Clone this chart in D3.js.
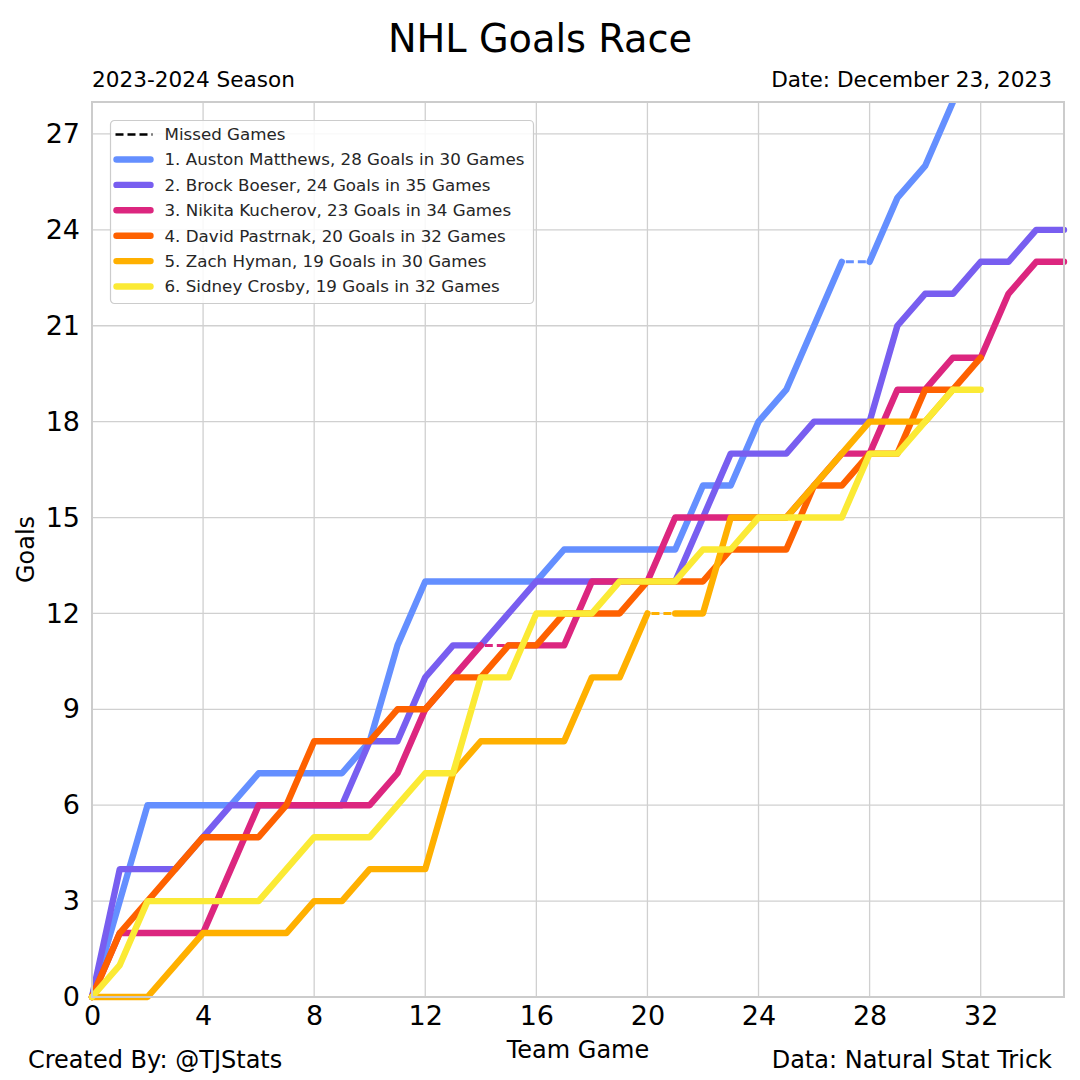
<!DOCTYPE html>
<html>
<head>
<meta charset="utf-8">
<script src="https://cdn.jsdelivr.net/npm/d3@7"></script>
<style>
  html, body { margin: 0; padding: 0; background: #fff; }
  svg { display: block; font-family: "DejaVu Sans", sans-serif; }
</style>
</head>
<body>
<div id="chart"></div>
<script>
// goals after each team game (index = team game number)
const players = ["Auston Matthews", "Brock Boeser", "Nikita Kucherov", "David Pastrnak", "Zach Hyman", "Sidney Crosby"];
const colors = ["#648FFF", "#785EF0", "#DC267F", "#FE6100", "#FFB000", "#FBEA35"];

const matthewsGoals = [0, 3, 6, 6, 6, 6, 7, 7, 7, 7, 8, 11, 13, 13, 13, 13, 13, 14, 14, 14, 14, 14, 16, 16, 18, 19, 21, 23, 23, 25, 26, 28];
const boeserGoals = [0, 4, 4, 4, 5, 6, 6, 6, 6, 6, 8, 8, 10, 11, 11, 12, 13, 13, 13, 13, 13, 13, 15, 17, 17, 17, 18, 18, 18, 21, 22, 22, 23, 23, 24, 24];
const kucherovGoals = [0, 2, 2, 2, 2, 4, 6, 6, 6, 6, 6, 7, 9, 10, 11, 11, 11, 11, 13, 13, 13, 15, 15, 15, 15, 15, 16, 17, 17, 19, 19, 20, 20, 22, 23, 23];
const pastrnakGoals = [0, 2, 3, 4, 5, 5, 5, 6, 8, 8, 8, 9, 9, 10, 10, 11, 11, 12, 12, 12, 13, 13, 13, 14, 14, 14, 16, 16, 17, 17, 19, 19, 20];
const hymanGoals = [0, 0, 0, 1, 2, 2, 2, 2, 3, 3, 4, 4, 4, 7, 8, 8, 8, 8, 10, 10, 12, 12, 12, 15, 15, 15, 16, 17, 18, 18, 18, 19];
const crosbyGoals = [0, 1, 3, 3, 3, 3, 3, 4, 5, 5, 5, 6, 7, 7, 10, 10, 12, 12, 12, 13, 13, 13, 14, 14, 15, 15, 15, 15, 17, 17, 18, 19, 19];

// team games each player sat out (segment leading into that game is dashed)
const matthewsMissed = [28];
const boeserMissed = [];
const kucherovMissed = [15];
const pastrnakMissed = [];
const hymanMissed = [21];
const crosbyMissed = [];

const goalsList = [matthewsGoals, boeserGoals, kucherovGoals, pastrnakGoals, hymanGoals, crosbyGoals];
const missedList = [matthewsMissed, boeserMissed, kucherovMissed, pastrnakMissed, hymanMissed, crosbyMissed];

const xTicks = [0, 4, 8, 12, 16, 20, 24, 28, 32];
const yTicks = [0, 3, 6, 9, 12, 15, 18, 21, 24, 27];

const W = 1080, H = 1080;
const margin = { top: 102, right: 16, bottom: 83, left: 92 };
const innerW = W - margin.left - margin.right;
const innerH = H - margin.top - margin.bottom;

const svg = d3.select("#chart").append("svg")
    .attr("width", W)
    .attr("height", H);

svg.append("rect").attr("width", W).attr("height", H).attr("fill", "#fff");

const x = d3.scaleLinear().domain([0, 35]).range([margin.left, margin.left + innerW]);
const y = d3.scaleLinear().domain([0, 28]).range([margin.top + innerH, margin.top]);

// grid
svg.append("g")
    .selectAll("line.vg")
    .data(xTicks)
    .enter().append("line")
    .attr("x1", d => x(d)).attr("x2", d => x(d))
    .attr("y1", y(0)).attr("y2", y(28))
    .attr("stroke", "#d0d0d0")
    .attr("stroke-width", 1.3);

svg.append("g")
    .selectAll("line.hg")
    .data(yTicks)
    .enter().append("line")
    .attr("x1", x(0)).attr("x2", x(35))
    .attr("y1", d => y(d)).attr("y2", d => y(d))
    .attr("stroke", "#d0d0d0")
    .attr("stroke-width", 1.3);

// axes (tick labels only, no tick marks)
const xAxis = svg.append("g")
    .attr("transform", `translate(0,${y(0)})`)
    .call(d3.axisBottom(x).tickValues(xTicks).tickSize(0).tickPadding(9));
const yAxis = svg.append("g")
    .attr("transform", `translate(${x(0)},0)`)
    .call(d3.axisLeft(y).tickValues(yTicks).tickSize(0).tickPadding(12));
[xAxis, yAxis].forEach(a => {
    a.select(".domain").remove();
    a.selectAll("text")
        .style("font-family", "DejaVu Sans")
        .style("font-size", "27px")
        .attr("fill", "#000");
});

const plot = svg.append("g");

const line = d3.line()
    .defined(d => d !== null)
    .x(d => x(d[0]))
    .y(d => y(d[1]));

goalsList.forEach((goals, p) => {
    const missed = missedList[p];
    const pts = [];
    goals.forEach((g, i) => {
        if (missed.includes(i)) pts.push(null);
        pts.push([i, g]);
    });

    missed.forEach(m => {
        plot.append("path")
            .datum([[m - 1, goals[m - 1]], [m, goals[m]]])
            .attr("d", line)
            .attr("fill", "none")
            .attr("stroke", colors[p])
            .attr("stroke-width", 3)
            .attr("stroke-dasharray", "8,4")
            .attr("stroke-dashoffset", -4);
    });

    plot.append("path")
        .datum(pts)
        .attr("d", line)
        .attr("fill", "none")
        .attr("stroke", colors[p])
        .attr("stroke-width", 6.4)
        .attr("stroke-linecap", "round")
        .attr("stroke-linejoin", "round");
});

// frame
svg.append("rect")
    .attr("x", x(0)).attr("y", y(28))
    .attr("width", x(35) - x(0)).attr("height", y(0) - y(28))
    .attr("fill", "none")
    .attr("stroke", "#cccccc")
    .attr("stroke-width", 2);

// clip the top so Matthews ends at the frame
svg.append("rect").attr("x", 0).attr("y", 0).attr("width", W).attr("height", y(28) - 1).attr("fill", "#fff");

// legend
const lg = svg.append("g").attr("transform", "translate(110.5,120.5)");
lg.append("rect")
    .attr("width", 423).attr("height", 183)
    .attr("rx", 4)
    .attr("fill", "#fff").attr("fill-opacity", 0.85)
    .attr("stroke", "#cccccc").attr("stroke-width", 1.2);

const legendLabels = players.map((name, i) => {
    const goals = goalsList[i];
    const played = goals.length - 1 - missedList[i].length;
    return `${i + 1}. ${name}, ${goals[goals.length - 1]} Goals in ${played} Games`;
});

lg.append("line")
    .attr("x1", 5).attr("x2", 42)
    .attr("y1", 14).attr("y2", 14)
    .attr("stroke", "#000").attr("stroke-width", 2.5)
    .attr("stroke-dasharray", "8,4");
lg.append("text")
    .attr("x", 54).attr("y", 14)
    .attr("dy", "0.35em")
    .style("font-size", "16.7px")
    .attr("fill", "#262626")
    .text("Missed Games");

legendLabels.forEach((label, i) => {
    const cy = 39 + i * 25.4;
    lg.append("line")
        .attr("x1", 6).attr("x2", 40)
        .attr("y1", cy).attr("y2", cy)
        .attr("stroke", colors[i]).attr("stroke-width", 6.4)
        .attr("stroke-linecap", "round");
    lg.append("text")
        .attr("x", 54).attr("y", cy)
        .attr("dy", "0.35em")
        .style("font-size", "16.7px")
        .attr("fill", "#262626")
        .text(label);
});

// titles and notes
svg.append("text")
    .attr("x", 540).attr("y", 52)
    .attr("text-anchor", "middle")
    .style("font-size", "38.3px")
    .text("NHL Goals Race");

svg.append("text")
    .attr("x", 92).attr("y", 87)
    .style("font-size", "21.6px")
    .text("2023-2024 Season");

svg.append("text")
    .attr("x", 1052).attr("y", 87)
    .attr("text-anchor", "end")
    .style("font-size", "21.6px")
    .text("Date: December 23, 2023");

svg.append("text")
    .attr("x", (x(0) + x(35)) / 2).attr("y", 1058)
    .attr("text-anchor", "middle")
    .style("font-size", "24px")
    .text("Team Game");

svg.append("text")
    .attr("transform", `translate(34,${(y(0) + y(28)) / 2}) rotate(-90)`)
    .attr("text-anchor", "middle")
    .style("font-size", "24px")
    .text("Goals");

svg.append("text")
    .attr("x", 28).attr("y", 1068)
    .style("font-size", "24px")
    .text("Created By: @TJStats");

svg.append("text")
    .attr("x", 1052).attr("y", 1068)
    .attr("text-anchor", "end")
    .style("font-size", "24px")
    .text("Data: Natural Stat Trick");
</script>
</body>
</html>
